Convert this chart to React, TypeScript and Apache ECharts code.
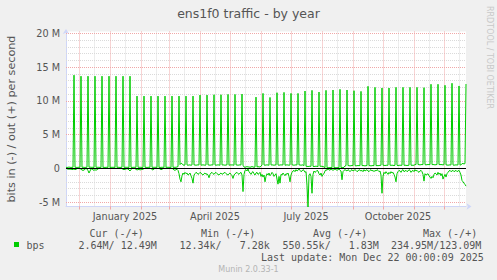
import React, { useEffect, useRef } from 'react';
import * as echarts from 'echarts';

// ---- data -------------------------------------------------------------
const startDate = '2024-11-18';
const dayCount = 401;

const monthStarts = [
  '2024-12-01', '2025-01-01', '2025-02-01', '2025-03-01', '2025-04-01', '2025-05-01', '2025-06-01',
  '2025-07-01', '2025-08-01', '2025-09-01', '2025-10-01', '2025-11-01', '2025-12-01',
];
const midMonths = [
  '2024-12-16', '2025-01-16', '2025-02-16', '2025-03-16', '2025-04-16', '2025-05-16', '2025-06-16',
  '2025-07-16', '2025-08-16', '2025-09-16', '2025-10-16', '2025-11-16', '2025-12-16',
];
const xLabelDates = ['2025-01-16', '2025-04-16', '2025-07-16', '2025-10-16'];
const xLabelTexts = ['January 2025', 'April 2025', 'July 2025', 'October 2025'];

const yMajor = [-5, 0, 5, 10, 15, 20];
const yMinor = [-4, -3, -2, -1, 1, 2, 3, 4, 6, 7, 8, 9, 11, 12, 13, 14, 16, 17, 18, 19];

// out (+), Mbit/s per day
const outBps = [
  0.15, 0.12, 0.15, 0.18, 0.15, 0.12, 0.15, 0.15,
  13.8, 0.15, 0.15, 0.12, 0.15, 0.15, 0.15,
  13.65, 0.15, 0.15, 0.15, 0.12, 0.15, 0.15,
  13.65, 0.15, 0.18, 0.15, 0.15, 0.15, 0.12,
  13.65, 0.15, 0.15, 0.15, 0.15, 0.12, 0.15,
  13.65, 0.15, 0.15, 0.12, 0.15, 0.15, 0.15,
  13.65, 0.12, 0.15, 0.15, 0.15, 0.15, 0.15,
  13.65, 0.15, 0.15, 0.15, 0.12, 0.15, 0.15,
  13.65, 0.15, 0.15, 0.15, 0.15, 0.15, 0.12,
  13.65, 0.15, 0.12, 0.15, 0.15, 0.15, 0.15,
  10.7, 0.15, 0.15, 0.15, 0.15, 0.12, 0.15,
  10.7, 0.15, 0.15, 0.12, 0.15, 0.15, 0.15,
  10.7, 0.15, 0.15, 0.15, 0.15, 0.15, 0.15,
  10.7, 0.15, 0.12, 0.15, 0.15, 0.15, 0.15,
  10.7, 0.15, 0.15, 0.15, 0.15, 0.12, 0.15,
  10.7, 0.15, 0.15, 0.15, 0.15, 0.2, 0.25,
  10.7, 0.55, 0.75, 0.7, 0.5, 0.45, 0.5,
  10.7, 0.5, 0.45, 0.5, 0.5, 0.45, 0.5,
  10.7, 0.5, 0.5, 0.45, 0.5, 0.5, 0.5,
  10.85, 0.45, 0.5, 0.5, 0.5, 0.45, 0.5,
  10.85, 0.5, 0.5, 0.45, 0.5, 0.5, 0.5,
  10.9, 0.5, 0.45, 0.5, 0.5, 0.5, 0.45,
  10.9, 0.5, 0.5, 0.5, 0.45, 0.5, 0.5,
  10.95, 0.45, 0.5, 0.5, 0.5, 0.5, 0.45,
  10.95, 0.5, 0.5, 0.45, 0.5, 0.5, 0.5,
  11.0, 0.45, 0.2, 0.15, 0.2, 0.25, 0.2,
  0.2, 0.15, 0.2, 0.25, 0.2, 0.15, 0.2,
  10.55, 0.2, 0.25, 0.2, 0.2, 0.3, 0.5,
  11.1, 0.5, 0.45, 0.5, 0.5, 0.5, 0.45,
  10.5, 0.5, 0.5, 0.5, 0.45, 0.5, 0.5,
  11.2, 0.5, 0.45, 0.5, 0.5, 0.5, 0.5,
  11.25, 0.45, 0.5, 0.5, 0.5, 0.45, 0.5,
  11.1, 0.5, 0.5, 0.45, 0.5, 0.5, 0.5,
  11.1, 0.5, 0.5, 0.45, 0.5, 0.5, 0.4,
  11.45, 0.3, 0.3, 0.25, 0.3, 0.3, 0.3,
  11.55, 0.3, 0.25, 0.3, 0.3, 0.3, 0.25,
  11.3, 0.3, 0.3, 0.3, 0.25, 0.2, 0.1,
  11.55, 0.1, 0.08, 0.1, 0.1, 0.12, 0.1,
  11.6, 0.1, 0.1, 0.08, 0.1, 0.1, 0.1,
  11.7, 0.1, 0.1, 0.1, 0.15, 0.35, 0.4,
  11.6, 0.4, 0.4, 0.35, 0.4, 0.4, 0.4,
  11.5, 0.4, 0.35, 0.4, 0.4, 0.4, 0.4,
  11.4, 0.4, 0.4, 0.4, 0.35, 0.4, 0.4,
  12.15, 0.4, 0.4, 0.35, 0.4, 0.4, 0.4,
  12.0, 0.4, 0.4, 0.4, 0.4, 0.45, 0.45,
  11.9, 0.45, 0.45, 0.4, 0.45, 0.45, 0.45,
  11.9, 0.45, 0.45, 0.45, 0.45, 0.4, 0.45,
  12.0, 0.45, 0.4, 0.45, 0.45, 0.45, 0.45,
  12.0, 0.45, 0.45, 0.45, 0.4, 0.45, 0.45,
  12.0, 0.45, 0.45, 0.45, 0.45, 0.55, 0.55,
  12.0, 0.55, 0.55, 0.5, 0.55, 0.55, 0.55,
  11.95, 0.55, 0.5, 0.55, 0.55, 0.55, 0.55,
  12.45, 0.55, 0.55, 0.55, 0.5, 0.55, 0.55,
  12.45, 0.55, 0.55, 0.55, 0.55, 0.5, 0.55,
  12.3, 0.5, 0.5, 0.45, 0.5, 0.5, 0.5,
  12.6, 0.5, 0.45, 0.5, 0.5, 0.5, 0.5,
  12.2, 0.5, 0.5, 0.7, 0.7, 0.65, 0.7,
  12.49,
];

// in (-), Mbit/s per day (drawn below zero)
const inBps = [
  0, -0.05, -0.15, -0.1, -0.15, -0.1, -0.2, -0.15, -0.1, -0.2,
  -0.15, -0.05, 0, 0, -0.05, -0.1, -0.3, -0.25, -0.3, -0.1,
  0, -0.1, -0.35, -0.7, -0.4, -0.1, -0.05, -0.25, -0.3, -0.2,
  -0.3, -0.2, -0.1, 0, 0, 0, 0, 0, 0, 0,
  0, 0, 0, 0, 0, 0, 0, 0, 0, 0,
  0, 0, 0, 0, 0, 0, -0.05, -0.15, -0.2, -0.15,
  -0.1, -0.05, -0.1, -0.25, -0.4, -0.2, -0.05, 0, 0, -0.05,
  -0.15, -0.25, -0.2, -0.15, -0.25, -0.2, -0.1, -0.2, -0.05, 0,
  0, 0, 0, 0, 0, -0.05, -0.2, -0.25, -0.1, 0,
  0, 0, 0, 0, -0.1, -0.2, -0.15, -0.05, 0, 0,
  0, 0, 0, 0, 0, 0, 0, -0.1, -0.25, -0.3,
  -0.2, -0.15, -0.3, -0.8, -1.6, -2.0, -1.1, -0.7, -0.9, -0.6,
  -0.8, -0.7, -1.0, -0.9, -0.7, -1.1, -1.5, -2.2, -1.0, -0.8,
  -0.6, -0.7, -0.9, -0.8, -0.6, -0.7, -0.9, -1.0, -0.8, -0.7,
  -0.9, -0.8, -1.0, -1.4, -0.9, -0.7, -0.6, -0.8, -0.9, -0.7,
  -0.6, -0.8, -0.9, -1.0, -0.8, -0.7, -0.9, -0.8, -0.7, -0.6,
  -0.8, -0.9, -1.0, -0.8, -0.7, -0.9, -1.1, -1.5, -1.0, -0.8,
  -0.7, -0.6, -0.8, -0.9, -0.7, -0.6, -1.0, -3.45, -0.9, -0.3,
  -0.2, -0.4, -0.1, -0.5, -0.7, -0.9, -0.6, -0.5, -0.8, -1.0,
  -0.7, -0.6, -0.9, -0.8, -0.6, -1.2, -0.9, -1.3, -1.0, -2.0,
  -1.2, -0.8, -1.0, -0.7, -1.1, -0.9, -0.6, -0.8, -1.2, -1.0,
  -0.8, -1.6, -2.35, -1.2, -2.2, -0.9, -1.0, -0.7, -0.9, -1.1,
  -0.8, -0.9, -0.7, -1.2, -2.0, -1.0, -0.6, -0.4, -0.3, -0.5,
  -0.2, -0.4, -0.3, -0.1, -0.3, -0.5, -0.4, -0.2, -0.3, -0.6,
  -0.5, -2.5, -5.8, -1.0, -0.8, -1.2, -3.7, -0.9, -0.4, -0.6,
  -0.5, -0.3, -0.4, -0.8, -1.0, -0.7, -1.2, -0.9, -0.8, -0.4,
  -0.2, -0.3, -0.1, -0.2, -0.3, -0.1, -0.2, -0.3, -0.2, -0.1,
  -0.2, -0.3, -0.2, -0.1, -0.3, -0.4, -1.7, -0.5, -0.3, -0.2,
  -0.3, -0.4, -0.2, -0.3, -0.5, -0.3, -0.2, -0.4, -0.3, -0.2,
  -0.3, -0.5, -0.4, -0.2, -0.3, -0.4, -0.3, -0.5, -0.2, -0.4,
  -0.3, -0.2, -0.4, -0.5, -0.3, -0.2, -0.4, -0.3, -0.5, -0.3,
  -0.4, -0.2, -0.3, -0.5, -0.4, -1.0, -3.7, -1.2, -0.6, -0.8,
  -0.5, -0.7, -0.9, -0.6, -0.8, -0.5, -0.7, -0.6, -0.9, -1.3,
  -2.0, -0.8, -0.5, -0.3, -0.4, -0.6, -0.3, -0.2, -0.5, -0.4,
  -0.3, -0.5, -0.4, -0.2, -0.3, -0.6, -0.4, -0.3, -0.5, -0.2,
  -0.4, -0.3, -0.5, -0.6, -0.4, -0.3, -0.5, -0.9, -1.9, -0.8,
  -1.0, -0.9, -0.8, -1.1, -1.3, -1.5, -1.2, -1.4, -0.9, -0.7,
  -0.8, -1.0, -0.6, -0.9, -0.7, -1.1, -0.8, -1.6, -1.2, -0.9,
  -1.3, -0.8, -0.6, -0.4, -0.3, -0.5, -0.4, -0.3, -0.5, -0.4,
  -0.3, -0.5, -0.4, -0.3, -0.6, -1.0, -1.8, -2.0, -2.2, -2.4,
  -2.64,
];

const legendHeaders = ['Cur (-/+)', 'Min (-/+)', 'Avg (-/+)', 'Max (-/+)'];
const legendValues = ['2.64M/ 12.49M', '12.34k/   7.28k', '550.55k/   1.83M', '234.95M/123.09M'];
const seriesName = 'bps';
const lastUpdate = 'Last update: Mon Dec 22 00:00:09 2025';
const titleText = 'ens1f0 traffic - by year';
const yAxisTitle = 'bits in (-) / out (+) per second';
const watermark = 'RRDTOOL / TOBI OETIKER';
const version = 'Munin 2.0.33-1';

// ---- styles -----------------------------------------------------------
const GREEN = '#00CC00';
const FONT = '#555555';
const AXIS = '#CFD6F8';
const MGRID = '#f0a8a8';
const GRID = '#dadada';
const SANS = 'DejaVu Sans';
const MONO = 'DejaVu Sans Mono';

function buildDays(start: string, count: number): string[] {
  const [y, m, d] = start.split('-').map(Number);
  const base = Date.UTC(y, m - 1, d);
  const out: string[] = [];
  for (let i = 0; i < count; i++) {
    out.push(new Date(base + i * 86400000).toISOString().slice(0, 10));
  }
  return out;
}

export default function App() {
  const ref = useRef<HTMLDivElement>(null);

  useEffect(() => {
    if (!ref.current) return;
    const chart = echarts.init(ref.current, null, { renderer: 'svg' });
    const days = buildDays(startDate, dayCount);

    const dotted = (color: string) => ({ color, width: 1, type: [1, 1] as any });

    const gridLines = [
      ...yMinor.map((v) => ({ yAxis: v, lineStyle: dotted(GRID) })),
      ...midMonths.map((v) => ({ xAxis: v, lineStyle: dotted(GRID) })),
      ...yMajor.map((v) => ({ yAxis: v, lineStyle: dotted(MGRID) })),
      ...monthStarts.map((v) => ({ xAxis: v, lineStyle: dotted(MGRID) })),
    ];

    const legendX = [89.5, 201, 313, 423];
    const valueX = [78.5, 179.5, 282.5, 391];

    const monoText = (text: string, x: number, y: number) => ({
      type: 'text',
      x,
      y,
      silent: true,
      style: { text, fill: FONT, fontFamily: MONO, fontSize: 10, align: 'left', verticalAlign: 'middle' },
    });

    chart.setOption({
      animation: false,
      backgroundColor: '#F0F0F0',
      grid: {
        left: 66,
        top: 31.5,
        width: 400,
        height: 175,
        show: true,
        backgroundColor: '#FFFFFF',
        borderWidth: 0,
        containLabel: false,
      },
      xAxis: {
        type: 'category',
        data: days,
        boundaryGap: false,
        axisLine: {
          onZero: false,
          lineStyle: { color: AXIS, width: 1 },
          symbol: ['none', 'arrow'],
          symbolSize: [5, 5],
          symbolOffset: [0, 5.5],
        },
        axisTick: {
          show: true,
          interval: (_i: number, v: string) => monthStarts.includes(v),
          length: 3,
          lineStyle: { color: MGRID, width: 1 },
        },
        axisLabel: {
          interval: (_i: number, v: string) => xLabelDates.includes(v),
          formatter: (v: string) => {
            const k = xLabelDates.indexOf(v);
            return k >= 0 ? xLabelTexts[k] : '';
          },
          color: FONT,
          fontFamily: SANS,
          fontSize: 9.7,
          margin: 5,
        },
        splitLine: { show: false },
      },
      yAxis: {
        type: 'value',
        min: -5.66,
        max: 20.27,
        axisLine: {
          show: true,
          lineStyle: { color: AXIS, width: 1 },
          symbol: ['none', 'arrow'],
          symbolSize: [5, 5],
          symbolOffset: [0, 2.5],
        },
        axisTick: { show: false },
        splitLine: { show: false },
        axisLabel: {
          showMinLabel: false,
          showMaxLabel: false,
          formatter: (v: number) => (v === 0 ? '0' : `${v} M`),
          color: FONT,
          fontFamily: SANS,
          fontSize: 9.7,
          margin: 6,
        },
      },
      series: [
        {
          name: 'grid',
          type: 'line',
          data: [],
          silent: true,
          z: 1,
          markLine: {
            silent: true,
            z: 1,
            symbol: ['none', 'none'],
            label: { show: false },
            emphasis: { disabled: true },
            data: gridLines,
          },
        },
        {
          name: 'in',
          type: 'line',
          data: inBps,
          showSymbol: false,
          symbol: 'none',
          silent: true,
          z: 3,
          lineStyle: { color: GREEN, width: 1 },
        },
        {
          name: 'out',
          type: 'line',
          data: outBps,
          showSymbol: false,
          symbol: 'none',
          silent: true,
          z: 3,
          lineStyle: { color: GREEN, width: 1 },
        },
        {
          name: 'zero',
          type: 'line',
          data: [],
          silent: true,
          z: 6,
          markLine: {
            silent: true,
            z: 6,
            symbol: ['none', 'none'],
            label: { show: false },
            emphasis: { disabled: true },
            lineStyle: { color: '#000000', width: 1.2, type: 'solid' },
            data: [{ yAxis: 0 }],
          },
        },
      ],
      graphic: [
        {
          type: 'text',
          x: 248.5,
          y: 13.6,
          silent: true,
          style: { text: titleText, fill: FONT, fontFamily: SANS, fontSize: 12.5, align: 'center', verticalAlign: 'middle' },
        },
        {
          type: 'text',
          x: 11,
          y: 119,
          rotation: Math.PI / 2,
          silent: true,
          style: { text: yAxisTitle, fill: FONT, fontFamily: SANS, fontSize: 11.2, align: 'center', verticalAlign: 'middle' },
        },
        {
          type: 'text',
          x: 489,
          y: 57.5,
          rotation: -Math.PI / 2,
          silent: true,
          style: { text: watermark, fill: '#c8c8c8', fontFamily: SANS, fontSize: 8, align: 'center', verticalAlign: 'middle' },
        },
        {
          type: 'rect',
          silent: true,
          shape: { x: 14, y: 242, width: 5, height: 5 },
          style: { fill: GREEN },
        },
        monoText(seriesName, 26.5, 245.5),
        ...legendHeaders.map((t, i) => monoText(t, legendX[i], 233.5)),
        ...legendValues.map((t, i) => monoText(t, valueX[i], 245.5)),
        monoText(lastUpdate, 261, 257.5),
        {
          type: 'text',
          x: 248.5,
          y: 269.3,
          silent: true,
          style: { text: version, fill: '#b4b4b4', fontFamily: SANS, fontSize: 8, align: 'center', verticalAlign: 'middle' },
        },
      ],
    });

    return () => chart.dispose();
  }, []);

  return (
    <div
      ref={ref}
      style={{ position: 'fixed', left: 0, top: 0, width: 497, height: 280 }}
    />
  );
}
